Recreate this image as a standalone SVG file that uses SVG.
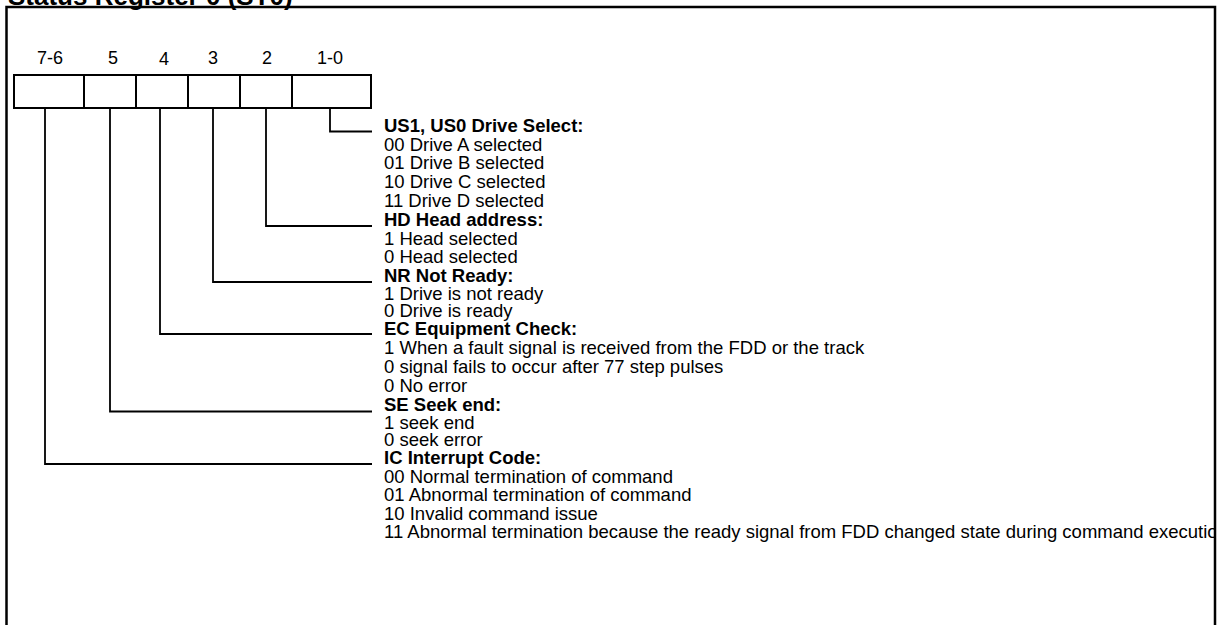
<svg xmlns="http://www.w3.org/2000/svg" width="1225" height="625" viewBox="0 0 1225 625">
<style>
.t{font-family:"Liberation Sans",Arial,sans-serif;font-size:18.5px;fill:#000}
.lbl{font-family:"Liberation Sans",Arial,sans-serif;font-size:18px;fill:#000}
.b{font-weight:bold}
.ttl{font-family:"Liberation Sans",Arial,sans-serif;font-size:26px;font-weight:bold;fill:#000}
.frame{fill:none;stroke:#000;stroke-width:2.5}
.box{fill:#fff;stroke:#000;stroke-width:2}
.con{fill:none;stroke:#000;stroke-width:1.8}
</style>
<defs><clipPath id="clip"><rect x="0" y="0" width="1214" height="625"/></clipPath></defs>
<text class="ttl" x="8" y="5">Status Register 0 (ST0)</text>
<g id="register">
<rect class="box" x="14" y="75" width="357" height="33"/>
<line class="box" x1="84" y1="75" x2="84" y2="108"/>
<line class="box" x1="136" y1="75" x2="136" y2="108"/>
<line class="box" x1="188" y1="75" x2="188" y2="108"/>
<line class="box" x1="240" y1="75" x2="240" y2="108"/>
<line class="box" x1="292" y1="75" x2="292" y2="108"/>
<g text-anchor="middle" class="lbl">
<text x="50" y="64">7-6</text>
<text x="113" y="64">5</text>
<text x="164" y="65">4</text>
<text x="213" y="64">3</text>
<text x="267" y="64">2</text>
<text x="330" y="64">1-0</text>
</g>
</g>
<g id="connectors">
<polyline class="con" points="330,108 330,131.5 372,131.5"/>
<polyline class="con" points="266,108 266,226 372,226"/>
<polyline class="con" points="213,108 213,282 372,282"/>
<polyline class="con" points="160,108 160,334 372,334"/>
<polyline class="con" points="110,108 110,411.5 372,411.5"/>
<polyline class="con" points="45,108 45,464 372,464"/>
</g>
<g clip-path="url(#clip)" class="t">
<g id="us"><text class="t b" x="384" y="131.7">US1, US0 Drive Select:</text>
<text x="384" y="150.6">00 Drive A selected</text>
<text x="384" y="169.4">01 Drive B selected</text>
<text x="384" y="188.3">10 Drive C selected</text>
<text x="384" y="207.1">11 Drive D selected</text></g>
<g id="hd"><text class="t b" x="384" y="226">HD Head address:</text>
<text x="384" y="244.7">1 Head selected</text>
<text x="384" y="263.3">0 Head selected</text></g>
<g id="nr"><text class="t b" x="384" y="282">NR Not Ready:</text>
<text x="384" y="299.7">1 Drive is not ready</text>
<text x="384" y="317.3">0 Drive is ready</text></g>
<g id="ec"><text class="t b" x="384" y="335">EC Equipment Check:</text>
<text x="384" y="354">1 When a fault signal is received from the FDD or the track</text>
<text x="384" y="373">0 signal fails to occur after 77 step pulses</text>
<text x="384" y="392">0 No error</text></g>
<g id="se"><text class="t b" x="384" y="411">SE Seek end:</text>
<text x="384" y="428.7">1 seek end</text>
<text x="384" y="446.3">0 seek error</text></g>
<g id="ic"><text class="t b" x="384" y="464">IC Interrupt Code:</text>
<text x="384" y="482.5">00 Normal termination of command</text>
<text x="384" y="501">01 Abnormal termination of command</text>
<text x="384" y="519.5">10 Invalid command issue</text>
<text x="384" y="538">11 Abnormal termination because the ready signal from FDD changed state during command execution</text></g>
</g>
<polyline class="frame" points="6.5,630 6.5,7 1215,7 1215,630"/>
</svg>
